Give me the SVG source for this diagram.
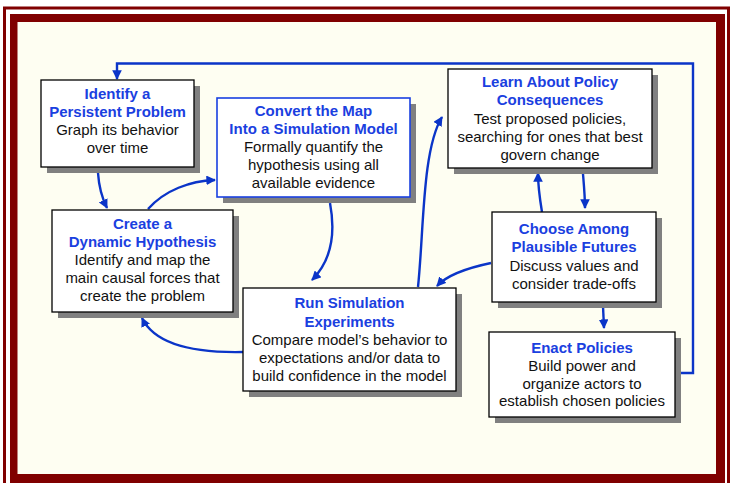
<svg xmlns="http://www.w3.org/2000/svg" width="732" height="483" viewBox="0 0 732 483">
<defs>
<style>
.sh{fill:#808080}
.bx{fill:#ffffff;stroke:#000000;stroke-width:1.3}
.bb{fill:#ffffff;stroke:#1a40e0;stroke-width:1.6}
text{font-family:"Liberation Sans",Arial,sans-serif;font-size:15px;text-anchor:middle}
.t{font-weight:bold;fill:#1a40e0}
.d{fill:#111111}
.c{fill:none;stroke:#0b35c8;stroke-width:2.4}
</style>
<marker id="ah" viewBox="0 0 10 10" refX="9" refY="5" markerWidth="4" markerHeight="4" orient="auto" markerUnits="strokeWidth">
<path d="M0,0 L10,5 L0,10 z" fill="#0b35c8"/>
</marker>
</defs>
<rect x="0" y="0" width="732" height="483" fill="#ffffff"/>
<rect x="4.5" y="8" width="724" height="490" fill="none" stroke="#800000" stroke-width="3"/>
<rect x="10" y="14" width="715" height="475" fill="#800000"/>
<rect x="17.5" y="22" width="698.5" height="452" fill="#fefef2"/>

<g id="connectors">
<path class="c" d="M675,373 L693,373 L693,63.5 L117,63.5 L117,79" marker-end="url(#ah)"/>
<path class="c" d="M98,173 C99,188 102,198 107,208" marker-end="url(#ah)"/>
<path class="c" d="M148,209 C165,190 190,181 215,180" marker-end="url(#ah)"/>
<path class="c" d="M330,203 C336,235 330,262 312,280" marker-end="url(#ah)"/>
<path class="c" d="M418,287 C424,230 422,150 442,117" marker-end="url(#ah)"/>
<path class="c" d="M491,263 C467,268 447,275 437,286" marker-end="url(#ah)"/>
<path class="c" d="M542,212 C540,200 538,186 538,173" marker-end="url(#ah)"/>
<path class="c" d="M583,174 C584,186 585,197 585,208" marker-end="url(#ah)"/>
<path class="c" d="M603,306 L604,328" marker-end="url(#ah)"/>
<path class="c" d="M243,352 C195,353 155,345 142,318" marker-end="url(#ah)"/>
</g>

<g id="node-identify">
<rect class="sh" x="47" y="86" width="153" height="87"/>
<rect class="bx" x="41" y="80" width="153" height="87"/>
<text class="t" x="117.5" y="99">Identify a</text>
<text class="t" x="117.5" y="117">Persistent Problem</text>
<text class="d" x="117.5" y="135">Graph its behavior</text>
<text class="d" x="117.5" y="153">over time</text>
</g>

<g id="node-hypothesis">
<rect class="sh" x="58" y="216" width="181" height="102"/>
<rect class="bx" x="52" y="210" width="181" height="102"/>
<text class="t" x="142.5" y="229">Create a</text>
<text class="t" x="142.5" y="247">Dynamic Hypothesis</text>
<text class="d" x="142.5" y="265">Identify and map the</text>
<text class="d" x="142.5" y="283">main causal forces that</text>
<text class="d" x="142.5" y="301">create the problem</text>
</g>

<g id="node-convert">
<rect class="sh" x="223" y="104" width="193" height="99"/>
<rect class="bb" x="217" y="98" width="193" height="99"/>
<text class="t" x="313.5" y="116">Convert the Map</text>
<text class="t" x="313.5" y="134">Into a Simulation Model</text>
<text class="d" x="313.5" y="152">Formally quantify the</text>
<text class="d" x="313.5" y="170">hypothesis using all</text>
<text class="d" x="313.5" y="188">available evidence</text>
</g>

<g id="node-learn">
<rect class="sh" x="454" y="75" width="204" height="99"/>
<rect class="bx" x="448" y="69" width="204" height="99"/>
<text class="t" x="550" y="87">Learn About Policy</text>
<text class="t" x="550" y="105">Consequences</text>
<text class="d" x="550" y="124">Test proposed policies,</text>
<text class="d" x="550" y="142">searching for ones that best</text>
<text class="d" x="550" y="160">govern change</text>
</g>

<g id="node-choose">
<rect class="sh" x="498" y="218" width="164" height="90"/>
<rect class="bx" x="492" y="212" width="164" height="90"/>
<text class="t" x="574" y="234">Choose Among</text>
<text class="t" x="574" y="252">Plausible Futures</text>
<text class="d" x="574" y="271">Discuss values and</text>
<text class="d" x="574" y="289">consider trade-offs</text>
</g>

<g id="node-run">
<rect class="sh" x="249" y="294" width="213" height="103"/>
<rect class="bx" x="243" y="288" width="213" height="103"/>
<text class="t" x="349.5" y="308">Run Simulation</text>
<text class="t" x="349.5" y="327">Experiments</text>
<text class="d" x="349.5" y="345">Compare model’s behavior to</text>
<text class="d" x="349.5" y="363">expectations and/or data to</text>
<text class="d" x="349.5" y="381">build confidence in the model</text>
</g>

<g id="node-enact">
<rect class="sh" x="495" y="338" width="186" height="85"/>
<rect class="bx" x="489" y="332" width="186" height="85"/>
<text class="t" x="582" y="353">Enact Policies</text>
<text class="d" x="582" y="371">Build power and</text>
<text class="d" x="582" y="389">organize actors to</text>
<text class="d" x="582" y="406">establish chosen policies</text>
</g>
</svg>
